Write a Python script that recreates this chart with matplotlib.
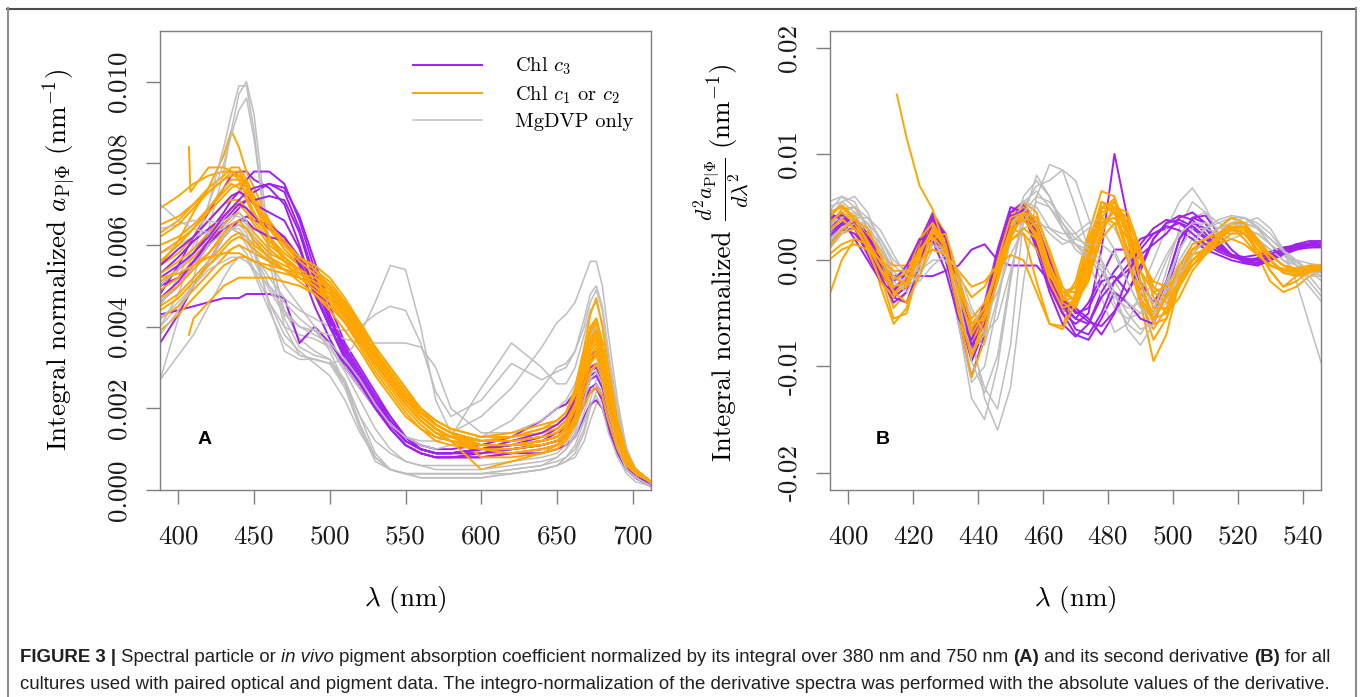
import itertools

import matplotlib
matplotlib.use("Agg")
import matplotlib.pyplot as plt
from matplotlib import font_manager
from matplotlib.lines import Line2D

# values are stored in units of 1e-4
SCALE = 1e-4

# ---- panel A: integral normalized spectra ----
WL_A = [388, 400, 410, 420, 430, 435, 440, 445, 450, 460, 470, 480, 490, 500, 510, 520, 530, 540, 550,
        560, 570, 580, 600, 620, 640, 650, 656, 662, 668, 672, 676, 680, 684, 690, 696, 702, 712]

PURPLE_A = [
    [48, 55, 62, 68, 74, 77, 78, 78, 76, 74, 70, 60, 48, 40, 33, 27, 21, 16, 12, 10, 9, 9, 9, 10, 11, 12, 13, 16, 21, 24, 25, 22, 17, 11, 6, 3, 1],
    [50, 54, 58, 63, 68, 71, 73, 76, 78, 78, 75, 66, 54, 43, 35, 29, 23, 18, 13, 10, 9, 9, 9, 10, 11, 12, 14, 18, 25, 29, 30, 27, 20, 12, 6, 3, 1],
    [46, 50, 55, 60, 65, 67, 69, 71, 73, 75, 74, 67, 56, 45, 36, 30, 24, 18, 13, 10, 9, 9, 10, 11, 13, 15, 17, 21, 28, 32, 33, 29, 22, 13, 7, 4, 1],
    [53, 57, 61, 64, 67, 69, 70, 71, 71, 72, 71, 63, 51, 41, 34, 28, 22, 17, 13, 11, 10, 10, 11, 13, 17, 20, 21, 24, 29, 33, 34, 30, 23, 14, 7, 4, 1],
    [36, 43, 50, 56, 62, 64, 66, 67, 66, 65, 62, 55, 45, 37, 30, 25, 20, 15, 11, 9, 8, 8, 8, 9, 10, 11, 13, 17, 23, 27, 28, 25, 19, 11, 6, 3, 1],
    [43, 44, 45, 46, 47, 47, 47, 48, 48, 48, 47, 36, 40, 36, 31, 26, 21, 16, 12, 10, 9, 9, 10, 11, 12, 14, 15, 18, 22, 25, 26, 23, 18, 11, 6, 3, 1],
    [55, 59, 62, 66, 70, 72, 73, 72, 70, 68, 66, 59, 49, 40, 32, 26, 20, 15, 11, 9, 8, 8, 9, 10, 11, 12, 13, 16, 21, 24, 25, 22, 16, 10, 5, 3, 1],
    [50, 52, 56, 60, 64, 65, 66, 66, 64, 62, 61, 56, 48, 40, 33, 27, 21, 15, 11, 9, 8, 8, 8, 9, 9, 10, 11, 13, 18, 21, 22, 20, 15, 9, 5, 3, 1],
    [47, 51, 56, 61, 66, 68, 70, 69, 67, 64, 62, 57, 50, 42, 35, 29, 23, 17, 13, 10, 9, 9, 10, 11, 12, 13, 15, 19, 25, 28, 29, 26, 20, 12, 6, 3, 1],
    [52, 55, 58, 62, 67, 69, 71, 73, 74, 75, 73, 64, 52, 42, 34, 28, 22, 16, 12, 10, 9, 9, 10, 12, 14, 16, 18, 22, 27, 30, 31, 28, 21, 13, 7, 4, 1],
]

ORANGE_A = [
    [55, 61, 68, 74, 82, 88, 84, 78, 74, 66, 60, 56, 53, 49, 43, 37, 31, 26, 21, 17, 14, 13, 12, 12, 13, 14, 16, 22, 33, 40, 42, 36, 27, 16, 8, 5, 2],
    [69, 72, 75, 77, 78, 78, 77, 74, 70, 64, 59, 55, 52, 48, 43, 38, 33, 28, 23, 19, 16, 14, 12, 12, 13, 14, 16, 21, 31, 38, 41, 35, 26, 15, 8, 5, 2],
    [63, 66, 70, 74, 77, 79, 79, 76, 72, 66, 61, 57, 54, 51, 46, 40, 34, 28, 23, 18, 15, 13, 11, 11, 12, 13, 15, 20, 30, 36, 39, 34, 25, 15, 8, 5, 2],
    [60, 62, 65, 69, 73, 75, 74, 71, 67, 62, 58, 55, 52, 49, 44, 38, 32, 27, 22, 18, 15, 13, 10, 10, 11, 12, 14, 19, 28, 34, 36, 31, 23, 14, 7, 4, 2],
    [55, 58, 62, 66, 70, 71, 71, 69, 66, 61, 57, 54, 51, 47, 42, 36, 31, 26, 21, 17, 14, 12, 9, 9, 10, 11, 13, 18, 27, 33, 35, 31, 23, 13, 7, 4, 2],
    [53, 56, 59, 63, 67, 69, 70, 68, 65, 60, 57, 54, 52, 49, 44, 39, 34, 29, 24, 20, 17, 15, 13, 13, 14, 15, 17, 22, 31, 37, 40, 35, 26, 15, 8, 5, 2],
    [51, 54, 57, 61, 65, 67, 68, 66, 63, 59, 56, 54, 52, 50, 45, 40, 34, 29, 24, 19, 16, 14, 12, 12, 13, 14, 16, 21, 29, 35, 37, 33, 24, 14, 7, 4, 2],
    [49, 52, 55, 58, 62, 64, 65, 64, 62, 58, 56, 54, 52, 49, 45, 39, 33, 28, 23, 19, 16, 14, 8, 8, 9, 10, 12, 17, 26, 32, 34, 30, 22, 13, 7, 4, 2],
    [45, 48, 52, 56, 60, 62, 63, 62, 60, 57, 55, 53, 51, 48, 44, 38, 33, 28, 23, 19, 16, 14, 12, 13, 15, 16, 18, 23, 32, 39, 42, 36, 27, 16, 8, 5, 2],
    [42, 45, 49, 53, 57, 59, 60, 59, 58, 56, 54, 52, 50, 47, 43, 38, 32, 27, 22, 18, 15, 13, 11, 11, 12, 13, 15, 20, 28, 34, 36, 32, 24, 14, 7, 4, 2],
    [39, 43, 47, 51, 55, 56, 57, 57, 56, 54, 53, 52, 50, 47, 42, 37, 31, 26, 21, 17, 14, 12, 5, 7, 9, 11, 13, 18, 26, 31, 33, 29, 21, 12, 6, 4, 2],
    [58, 61, 64, 68, 72, 74, 75, 73, 70, 65, 61, 57, 54, 50, 45, 39, 33, 28, 23, 19, 16, 14, 12, 13, 15, 17, 19, 25, 35, 43, 47, 40, 30, 17, 9, 5, 2],
    [47, 50, 54, 58, 63, 65, 66, 64, 61, 57, 54, 51, 48, 44, 39, 34, 28, 23, 18, 15, 13, 12, 11, 11, 11, 12, 13, 16, 21, 24, 25, 23, 17, 10, 6, 4, 2],
    [65, 67, 70, 73, 76, 77, 77, 75, 71, 65, 60, 56, 53, 50, 45, 39, 33, 27, 22, 18, 15, 13, 11, 11, 12, 13, 15, 20, 29, 35, 38, 33, 24, 14, 7, 4, 2],
    [52, 53, 55, 57, 58, 58, 58, 57, 56, 55, 54, 53, 51, 48, 43, 38, 32, 27, 22, 18, 15, 13, 12, 12, 13, 14, 16, 21, 30, 36, 39, 34, 25, 15, 8, 5, 2],
    [56, 60, 64, 69, 74, 76, 76, 74, 70, 64, 60, 57, 55, 52, 47, 41, 35, 30, 25, 20, 16, 14, 11, 11, 12, 13, 15, 20, 29, 35, 37, 32, 24, 14, 7, 4, 2],
    [44, 47, 51, 55, 59, 61, 62, 61, 59, 56, 54, 53, 52, 50, 46, 41, 35, 30, 25, 20, 17, 15, 13, 14, 16, 17, 19, 24, 33, 39, 41, 36, 27, 16, 8, 5, 2],
    [62, 65, 69, 73, 76, 78, 78, 75, 70, 62, 56, 52, 49, 46, 41, 35, 29, 24, 19, 15, 12, 11, 10, 10, 11, 12, 14, 18, 26, 31, 33, 29, 21, 12, 7, 4, 2],
]

# two cultures whose spectra start at 407 nm
SPIKE_WL_A = [407, 408] + WL_A[2:]
SPIKE_A = [84, 73, 74, 79, 79, 78, 76, 72, 68, 62, 57, 53, 50, 46, 41, 36, 30, 25, 20, 16, 13, 12,
           11, 11, 12, 13, 15, 20, 30, 36, 38, 33, 24, 14, 8, 5, 2]
LATE_WL_A = [407] + WL_A[2:]
LATE_A = [38, 42, 46, 50, 51, 52, 52, 52, 52, 51, 50, 48, 45, 41, 36, 31, 26, 21, 17, 14, 12,
          10, 9, 10, 11, 12, 16, 24, 29, 31, 27, 20, 12, 7, 4, 2]

GRAY_A = [
    [27, 42, 52, 64, 78, 88, 97, 100, 92, 60, 42, 35, 33, 32, 27, 18, 9, 5, 4, 4, 4, 4, 4, 4, 5, 6, 7, 9, 14, 20, 24, 25, 22, 16, 9, 5, 2],
    [40, 48, 58, 70, 84, 92, 99, 99, 88, 56, 40, 33, 32, 31, 25, 15, 7, 5, 4, 3, 3, 3, 3, 4, 5, 6, 7, 8, 12, 17, 21, 22, 19, 14, 8, 4, 2],
    [45, 52, 60, 70, 80, 87, 93, 96, 86, 58, 44, 37, 34, 32, 26, 16, 8, 5, 4, 4, 4, 4, 4, 5, 6, 7, 8, 10, 15, 22, 27, 28, 25, 18, 10, 5, 2],
    [27, 33, 38, 45, 52, 55, 57, 57, 53, 44, 36, 33, 32, 31, 32, 38, 46, 55, 54, 40, 22, 14, 18, 25, 35, 41, 43, 46, 52, 56, 56, 50, 38, 22, 10, 5, 2],
    [40, 45, 50, 55, 58, 59, 60, 58, 54, 46, 40, 38, 37, 35, 30, 25, 20, 16, 13, 12, 12, 13, 25, 36, 30, 26, 26, 30, 38, 44, 46, 41, 31, 18, 9, 5, 2],
    [58, 60, 62, 63, 64, 64, 63, 61, 58, 52, 47, 44, 42, 40, 39, 40, 43, 45, 44, 36, 24, 18, 22, 31, 27, 29, 30, 34, 40, 46, 49, 44, 33, 19, 10, 5, 2],
    [64, 65, 66, 66, 65, 64, 63, 60, 56, 49, 43, 40, 39, 38, 37, 36, 36, 36, 36, 35, 30, 20, 14, 14, 17, 20, 22, 26, 33, 38, 40, 36, 27, 16, 8, 4, 2],
    [70, 66, 64, 63, 64, 66, 68, 66, 60, 45, 34, 32, 32, 31, 26, 16, 8, 5, 4, 3, 3, 3, 3, 4, 5, 6, 8, 11, 17, 21, 23, 20, 14, 8, 4, 2, 1],
    [50, 54, 58, 62, 66, 67, 67, 65, 62, 56, 50, 45, 40, 34, 26, 18, 12, 9, 7, 6, 6, 6, 6, 7, 8, 9, 11, 15, 22, 27, 29, 26, 19, 11, 5, 3, 1],
    [46, 50, 55, 60, 63, 64, 64, 62, 58, 50, 44, 40, 38, 36, 32, 27, 21, 16, 13, 11, 10, 11, 13, 17, 25, 30, 31, 34, 42, 48, 50, 45, 34, 20, 10, 5, 2],
    [42, 46, 50, 54, 56, 57, 57, 56, 54, 50, 46, 42, 39, 35, 29, 22, 15, 10, 7, 6, 5, 5, 5, 6, 7, 8, 10, 13, 19, 24, 26, 23, 17, 10, 5, 3, 1],
    [38, 44, 50, 56, 62, 64, 65, 63, 58, 46, 38, 34, 31, 28, 22, 14, 8, 5, 4, 4, 4, 4, 4, 5, 6, 8, 10, 14, 22, 28, 31, 28, 20, 11, 5, 3, 1],
]

# ---- panel B: second derivative ----
WL_B = [394, 398, 402, 406, 410, 414, 418, 422, 426, 430, 434, 438, 442, 446, 450, 454, 458, 462, 466, 470,
        474, 478, 482, 486, 490, 494, 498, 502, 506, 510, 514, 518, 522, 526, 530, 534, 538, 542, 546]

PURPLE_B = [
    [30, 40, 35, 15, -10, -30, -20, 15, 40, 10, -60, -110, -70, 0, 45, 55, 30, -15, -45, -55, -40, -15, 10, 10, -20, -40, -20, 20, 40, 35, 15, 5, 0, 0, 5, 10, 15, 15, 15],
    [35, 45, 30, 5, -20, -35, -25, 10, 35, 10, -40, -75, -50, 0, 40, 50, 25, -20, -50, -60, -50, 10, 100, 40, -30, -50, -20, 20, 35, 30, 15, 5, 0, -5, 0, 10, 15, 18, 18],
    [20, 30, 25, 10, -5, -15, -15, -15, -15, -10, -5, 10, 15, 0, -5, -5, -5, -20, -40, -55, -60, -30, -10, 5, 20, 25, 30, 35, 30, 20, 10, 5, 0, 0, 5, 10, 12, 12, 12],
    [40, 42, 30, 10, -15, -40, -30, 10, 42, 20, -40, -85, -55, 5, 45, 50, 20, -25, -50, -70, -75, -55, -30, -40, -55, -60, -30, 10, 40, 42, 25, 10, 0, -3, 0, 5, 10, 14, 16],
    [25, 35, 38, 25, 0, -25, -20, 10, 30, 5, -50, -95, -65, -5, 40, 52, 35, 0, -35, -50, -45, -20, -15, -30, -10, 20, 35, 42, 38, 25, 12, 5, 3, 5, 8, 12, 14, 15, 14],
    [45, 38, 20, 0, -20, -30, -10, 20, 25, 0, -45, -70, -40, 10, 50, 45, 10, -30, -60, -72, -60, -35, -20, -10, 5, 15, 25, 40, 45, 35, 18, 5, -2, -2, 2, 6, 10, 12, 13],
    [15, 28, 30, 20, -5, -35, -40, -5, 38, 25, -30, -65, -45, -5, 30, 40, 25, -10, -40, -65, -70, -50, -20, -5, 10, 25, 32, 28, 20, 10, 5, 0, -3, -5, 0, 6, 12, 16, 18],
    [38, 44, 32, 12, -12, -28, -18, 18, 44, 22, -35, -80, -60, -8, 38, 48, 28, -8, -35, -48, -58, -62, -48, -30, -5, 20, 35, 38, 32, 22, 12, 5, 2, 0, 3, 8, 12, 14, 15],
    [22, 33, 36, 22, -2, -20, -5, 20, 18, -10, -55, -75, -45, 5, 42, 44, 15, -20, -38, -45, -55, -70, -50, -15, 15, 30, 38, 35, 25, 15, 8, 3, 0, 2, 6, 10, 13, 15, 16],
]

ORANGE_B = [
    [-35, 0, 20, 15, 0, -15, -10, 15, 30, 5, -45, -80, -50, 0, 35, 45, 20, -25, -50, -35, 10, 55, 50, 10, -40, -65, -45, -10, 10, 15, 20, 30, 25, 10, -5, -10, -8, -6, -6],
    [30, 48, 50, 30, -10, -45, -30, 10, 35, 15, -40, -85, -60, -10, 30, 50, 35, -5, -40, -20, 25, 65, 60, 20, -35, -75, -55, -15, 10, 20, 30, 40, 35, 15, -5, -10, -10, -8, -8],
    [20, 35, 40, 25, -15, -55, -50, -5, 30, 20, -30, -75, -55, -15, 25, 55, 45, 5, -30, -30, 10, 50, 55, 25, -40, -95, -70, -20, 10, 15, 20, 35, 30, 5, -20, -30, -25, -15, -10],
    [25, 40, 42, 20, -25, -60, -45, 0, 25, 5, -40, -70, -45, 0, 30, 25, -20, -60, -62, -30, 20, 50, 45, 10, -30, -50, -35, -10, 0, 10, 20, 30, 25, 10, -10, -25, -15, -5, -5],
    [15, 30, 35, 20, -5, -25, -20, 15, 45, 25, -50, -110, -75, -10, 40, 55, 35, -5, -35, -25, 15, 55, 45, 5, -35, -55, -35, -5, 10, 20, 25, 35, 30, 10, -5, -10, -10, -8, -7],
    [5, 15, 20, 15, 5, -5, -5, 5, 10, 5, -15, -35, -25, 0, 20, 25, 10, -15, -30, -25, 5, 35, 40, 20, -10, -30, -25, -5, 5, 10, 15, 20, 15, 5, -5, -10, -10, -10, -10],
    [10, 25, 30, 25, 10, -15, -25, -5, 25, 20, -20, -60, -45, -5, 35, 50, 30, -10, -40, -45, -10, 40, 55, 35, -10, -45, -45, -20, 0, 10, 20, 30, 30, 15, 0, -10, -12, -10, -8],
    [35, 45, 35, 10, -20, -35, -15, 20, 35, 10, -45, -90, -65, -15, 25, 40, 25, -10, -40, -40, -5, 45, 50, 25, -20, -55, -50, -20, 5, 20, 30, 40, 35, 20, 5, -5, -8, -8, -6],
    [40, 52, 40, 15, -10, -30, -25, 5, 30, 15, -35, -65, -45, -5, 30, 45, 30, -5, -35, -45, -15, 30, 50, 40, 5, -30, -40, -25, -5, 10, 25, 35, 35, 20, 0, -12, -15, -12, -8],
    [0, 10, 15, 10, 0, -10, -10, 0, 10, 5, -10, -25, -20, -5, 5, 0, -30, -60, -65, -40, 0, 35, 45, 30, 0, -20, -25, -15, -5, 5, 15, 25, 25, 10, -10, -25, -20, -10, -6],
    [12, 28, 38, 30, 5, -30, -40, -15, 20, 25, -15, -60, -55, -20, 20, 45, 40, 10, -25, -40, -20, 25, 50, 45, 10, -35, -50, -35, -10, 5, 18, 30, 32, 20, 5, -5, -10, -10, -9],
    [28, 38, 30, 12, -8, -25, -20, 8, 28, 12, -30, -70, -50, -8, 28, 38, 22, -12, -38, -35, 5, 48, 58, 30, -20, -60, -55, -25, 0, 12, 22, 32, 30, 15, 0, -12, -14, -10, -8],
    [45, 50, 38, 18, -2, -18, -12, 10, 22, 8, -28, -55, -40, -10, 18, 30, 20, -5, -30, -38, -15, 20, 35, 30, 5, -25, -35, -22, -5, 8, 20, 28, 28, 18, 5, -5, -8, -8, -7],
]

# the culture starting at 407 nm only has a derivative from 415 nm on
SPIKE_WL_B = [415] + WL_B[6:]
SPIKE_B = [156, 115, 70, 48, 10, -50, -90, -55, 0, 40, 45, 20, -20, -45, -40, 0, 40, 35, 0, -40, -55,
           -35, -5, 15, 20, 25, 30, 20, 5, -5, -8, -8, -5, -5]

GRAY_B = [
    [40, 55, 60, 45, 15, -15, -20, -5, 15, 10, -20, -70, -130, -160, -120, -20, 60, 90, 85, 50, 10, -20, -45, -55, -50, -30, 0, 25, 35, 30, 25, 30, 35, 30, 15, 0, -10, -15, -15],
    [45, 60, 55, 30, 0, -25, -25, 0, 20, 0, -60, -130, -150, -100, -20, 50, 70, 75, 85, 75, 40, 0, -40, -60, -70, -50, -10, 30, 55, 45, 25, 25, 35, 40, 30, 10, -20, -60, -100],
    [30, 45, 50, 40, 20, -5, -15, 0, 25, 15, -30, -80, -120, -140, -80, 40, 80, 60, 30, 10, 0, -10, -30, -50, -65, -60, -30, 10, 40, 45, 35, 30, 25, 20, 10, 0, -10, -25, -40],
    [35, 45, 40, 20, -10, -30, -20, 5, 20, 0, -60, -115, -100, -40, 20, 55, 65, 50, 30, 15, 10, 0, -20, -40, -50, -45, -20, 10, 30, 35, 30, 30, 30, 25, 15, 5, -5, -10, -12],
    [50, 55, 45, 20, -5, -20, -15, 5, 20, 5, -40, -85, -70, -20, 30, 55, 50, 30, 20, 15, 0, -35, -68, -60, -30, 0, 30, 55, 68, 50, 25, 20, 25, 25, 15, 5, -5, -15, -30],
    [20, 30, 35, 30, 15, -10, -25, -15, 10, 10, -25, -60, -55, -20, 25, 45, 40, 25, 15, 20, 30, 30, 10, -20, -45, -50, -30, 0, 20, 30, 35, 40, 40, 30, 15, 5, 0, -3, -5],
    [25, 40, 45, 35, 10, -15, -20, -5, 15, 10, -30, -75, -80, -35, 20, 60, 75, 60, 35, 15, 5, -5, -30, -65, -80, -60, -25, 10, 30, 30, 25, 30, 35, 30, 20, 10, 0, -10, -20],
    [10, 25, 35, 35, 20, 0, -10, -10, 0, 0, -20, -50, -55, -30, 5, 30, 35, 30, 25, 25, 35, 40, 30, 5, -25, -40, -35, -15, 5, 20, 30, 35, 30, 20, 10, 0, -5, -8, -10],
    [55, 60, 50, 30, 5, -20, -30, -10, 15, 5, -35, -95, -125, -90, -15, 45, 60, 55, 40, 25, 10, -10, -35, -45, -40, -20, 5, 25, 35, 35, 30, 35, 40, 35, 25, 10, -5, -20, -35],
    [15, 30, 40, 40, 28, 5, -15, -20, -5, 5, -10, -45, -70, -55, -10, 35, 55, 50, 35, 20, 15, 15, 5, -20, -45, -55, -40, -10, 15, 30, 38, 42, 40, 32, 20, 8, -2, -10, -15],
]

# ---- axis ticks and labels ----
XTICKS_A = [400, 450, 500, 550, 600, 650, 700]
YTICKS_A = [0.000, 0.002, 0.004, 0.006, 0.008, 0.010]
YLABELS_A = ["0.000", "0.002", "0.004", "0.006", "0.008", "0.010"]
XTICKS_B = [400, 420, 440, 460, 480, 500, 520, 540]
YTICKS_B = [-0.02, -0.01, 0.00, 0.01, 0.02]
YLABELS_B = ["-0.02", "-0.01", "0.00", "0.01", "0.02"]
LEGEND_LABELS = [r"Chl $c_3$", r"Chl $c_1$ or $c_2$", "MgDVP only"]

PURPLE = "#a020f0"
ORANGE = "#ffa500"
GRAY = "#bebebe"
FRAME = "#7f7f7f"

plt.rcParams["font.family"] = "cmr10"
plt.rcParams["mathtext.fontset"] = "cm"
plt.rcParams["axes.unicode_minus"] = False

names = {f.name for f in font_manager.fontManager.ttflist}
CAP_FONT = "Liberation Sans Narrow" if "Liberation Sans Narrow" in names else "Liberation Sans"

W, H = 1360, 697
TICK_SIZE = 19.5


def curves(wl, rows, extra=()):
    out = [(wl, r) for r in rows]
    out += list(extra)
    return out


def draw(ax, groups):
    # interleave the groups so no colour sits fully on top
    for trio in itertools.zip_longest(*[g[0] for g in groups]):
        for item, (_, color, lw) in zip(trio, groups):
            if item is None:
                continue
            wl, vals = item
            ax.plot(wl, [v * SCALE for v in vals], color=color, lw=lw, solid_joinstyle="round")


def style(ax, xlim, ylim, xticks, yticks, ylabels):
    ax.set_xlim(*xlim)
    ax.set_ylim(*ylim)
    for s in ax.spines.values():
        s.set_color(FRAME)
        s.set_linewidth(1.0)
    ax.set_xticks(xticks)
    ax.set_xticklabels([str(t) for t in xticks])
    ax.set_yticks(yticks)
    ax.set_yticklabels(ylabels, rotation=90, va="center")
    ax.tick_params(direction="out", length=10, width=1, color=FRAME,
                   labelsize=TICK_SIZE, labelcolor="#1a1a1a")
    ax.tick_params(axis="x", pad=15)
    ax.tick_params(axis="y", pad=11)


fig = plt.figure(figsize=(W / 100, H / 100), dpi=100)
ax_a = fig.add_axes([160 / W, 1 - 490 / H, 491 / W, 459.3 / H])
ax_b = fig.add_axes([830 / W, 1 - 490 / H, 491 / W, 459.3 / H])
renderer = fig.canvas.get_renderer()

draw(ax_a, [
    (curves(WL_A, PURPLE_A), PURPLE, 1.4),
    (curves(WL_A, ORANGE_A, [(SPIKE_WL_A, SPIKE_A), (LATE_WL_A, LATE_A)]), ORANGE, 1.4),
    (curves(WL_A, GRAY_A), GRAY, 1.1),
])
draw(ax_b, [
    (curves(WL_B, PURPLE_B), PURPLE, 1.4),
    (curves(WL_B, ORANGE_B, [(SPIKE_WL_B, SPIKE_B)]), ORANGE, 1.4),
    (curves(WL_B, GRAY_B), GRAY, 1.1),
])

style(ax_a, (387.9, 712.1), (0, 0.01125), XTICKS_A, YTICKS_A, YLABELS_A)
style(ax_b, (394.4, 545.6), (-0.02163, 0.0216), XTICKS_B, YTICKS_B, YLABELS_B)

ax_a.set_ylabel(r"Integral normalized $a_{\mathrm{P}|\Phi}$ (nm$^{-1}$)", fontsize=TICK_SIZE)
ax_a.yaxis.set_label_coords(-0.166, 0.5)
for ax in (ax_a, ax_b):
    ax.set_xlabel(r"$\lambda$ (nm)", fontsize=TICK_SIZE)
    ax.xaxis.set_label_coords(0.5, -0.205)


def text_len(s, size):
    t = fig.text(0, 0, s, fontsize=size)
    w = t.get_window_extent(renderer).width
    t.remove()
    return w


# panel B y label: the fraction is set a bit larger than mathtext's text-style fraction
B_LABEL = [("Integral normalized", TICK_SIZE),
           (r"$\frac{d^2 a_{\mathrm{P}|\Phi}}{d\lambda^2}$", TICK_SIZE * 1.15),
           (r"(nm$^{-1}$)", TICK_SIZE)]
gap = 0.33 * TICK_SIZE * 100 / 72
lens = [text_len(s, size) for s, size in B_LABEL]
pos = 262 + (sum(lens) + gap * (len(lens) - 1)) / 2
for (s, size), n in zip(B_LABEL, lens):
    fig.text(731 / W, 1 - pos / H, s, fontsize=size, rotation=90, rotation_mode="anchor",
             ha="left", va="baseline")
    pos -= n + gap

ax_a.text(0.0916, 0.109, "A", transform=ax_a.transAxes, family="Liberation Sans",
          fontweight="bold", fontsize=14, ha="center", va="center")
ax_b.text(0.108, 0.109, "B", transform=ax_b.transAxes, family="Liberation Sans",
          fontweight="bold", fontsize=14, ha="center", va="center")

handles = [Line2D([], [], color=c, lw=w) for c, w in ((PURPLE, 1.4), (ORANGE, 1.4), (GRAY, 1.1))]
ax_a.legend(handles, LEGEND_LABELS, loc="upper left", bbox_to_anchor=(0.515, 0.945),
            frameon=False, fontsize=14.7, handlelength=3.4, handletextpad=1.6,
            labelspacing=0.35, borderpad=0, borderaxespad=0)

# outer frame of the figure panel
fig.add_artist(Line2D([7 / W, 1356 / W], [1 - 8.5 / H] * 2, transform=fig.transFigure,
                      color="#4d4d4d", lw=1.5))
fig.add_artist(Line2D([7.5 / W] * 2, [0, 1 - 8 / H], transform=fig.transFigure,
                      color="#8c8c8c", lw=1.5))
fig.add_artist(Line2D([1355.5 / W] * 2, [0, 1 - 8 / H], transform=fig.transFigure,
                      color="#8c8c8c", lw=1.5))

# caption, written run by run so bold / italic parts can sit inline
LINE1 = [("FIGURE 3 |", "bold", "normal"),
         (" Spectral particle or ", "normal", "normal"),
         ("in vivo", "normal", "italic"),
         (" pigment absorption coefficient normalized by its integral over 380 nm and 750 nm ", "normal", "normal"),
         ("(A)", "bold", "normal"),
         (" and its second derivative ", "normal", "normal"),
         ("(B)", "bold", "normal"),
         (" for all", "normal", "normal")]
LINE2 = [("cultures used with paired optical and pigment data. The integro-normalization of the "
          "derivative spectra was performed with the absolute values of the derivative.", "normal", "normal")]


def run_line(runs, y, size, keep=True):
    def measure(s, weight="normal", st="normal"):
        t = fig.text(0, 0, s, fontsize=size, family=CAP_FONT, fontweight=weight, fontstyle=st)
        w = t.get_window_extent(renderer).width
        t.remove()
        return w

    space = measure("a a") - measure("aa")
    x = 20.0
    for text, weight, st in runs:
        core = text.strip(" ")
        x += (len(text) - len(text.lstrip(" "))) * space
        if keep:
            fig.text(x / W, y, core, fontsize=size, family=CAP_FONT, fontweight=weight,
                     fontstyle=st, color="#231f20", va="baseline")
        x += measure(core, weight, st)
        x += (len(text) - len(text.rstrip(" "))) * space
    return x - 20.0


cap_size = 10 * 1320 / run_line(LINE1, 0, 10, keep=False)
run_line(LINE1, 1 - 662 / H, cap_size)
run_line(LINE2, 1 - 689 / H, cap_size)

fig.savefig("out.png", dpi=100)
